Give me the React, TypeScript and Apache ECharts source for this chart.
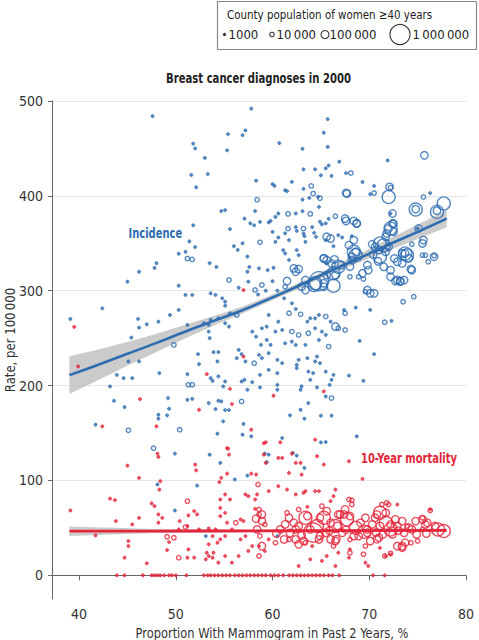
import React, { useEffect, useRef } from "react";
import * as echarts from "echarts";

// population classes for the point codes 1..5
const POP_CLASSES = [1000, 10000, 100000, 300000, 1000000];
const LEGEND_POPS = ["1000", "10\u2009000", "100\u2009000", "1\u2009000\u2009000"];
const X_TICKS = [40, 50, 60, 70, 80];
const Y_TICKS = [0, 100, 200, 300, 400, 500];

// [proportion %, rate, population class code]
const incidence: number[][] = [
  [47.6,484,1],[57.8,492,1],[55.4,465,1],[56.9,464,1],[57.2,469,1],[51.8,455,1],[52.0,450,1],[55.3,448,1],[53.0,440,1],[51.6,422,1],[53.3,423,1],[52.1,409,1],[58.3,416,1],[58.4,396,2],[54.7,384,1],[55.1,385,1],[58.2,384,1],[57.1,376,1],[57.7,371,1],[58.1,369,1],[51.8,369,1],[55.6,365,1],[51.4,352,1],[52.0,346,1],[56.0,347,1],[56.4,343,1],[56.9,350,1],[58.7,351,2],[50.3,339,1],[51.0,341,1],[51.2,334,2],[51.7,333,2],[57.4,336,1],[48.0,329,1],[47.8,324,1],[53.5,329,1],[54.2,325,1],[57.6,325,1],
  [60.7,455.6,1],[63.1,449.6,1],[65.3,466.6,1],[65.7,480.9,1],[65.7,451.6,1],[66.9,436,1],[71.9,437.4,1],[75.7,442.7,3],[67.6,424,1],[68.1,424,2],[63.2,427.9,1],[64.4,428,1],[65.0,421.7,1],[65.5,429,1],[65.8,432,1],[66.1,421,1],[61.3,405.9,1],[62.0,414.7,1],[60.0,412.4,1],[60.2,410.6,1],[61.5,404.9,1],[63.2,407.4,1],[63.8,397.9,1],[64.0,410.5,2],[64.7,399,1],[64.9,397.6,2],[67.6,403,3],[70.5,410.4,1],[70.5,403,2],[70.1,401.7,1],[72.1,409.4,3],[72.0,398.9,4],[72.4,381.4,3],[74.8,386,3],[75.6,398.9,2],[76.3,403,1],[77.0,384.4,3],[77.7,392,4],
  [59.6,372,1],[59.8,373.6,1],[60.6,381.4,1],[61.3,360.5,1],[61.6,381,2],[62.4,381.4,1],[61.6,365.5,2],[62.4,367,1],[62.5,363,1],[63.2,365.5,2],[63.3,357.5,1],[63.4,351.5,1],[63.9,381,2],[64.1,367,1],[64.3,361,1],[64.5,356.8,1],[64.9,372.7,1],[65.1,370,1],[65.5,371,1],[65.8,375.8,1],[66.0,355,3],[66.3,346.9,1],[67.6,373.6,3],[68.4,373.6,3],[68.7,371,3],
  [64.2,402.4,2],[63.1,396,1],[69.3,414.6,1],[63.1,383.8,1],[64.8,388.3,1],[66.5,378.5,2],[72.2,381.3,1],[72.4,370.8,3],[72.0,365.6,3],[72.5,362.1,3],[75.0,365.6,1],
  [58.7,372.6,1],[60.3,377.8,1],[60.6,356.1,1],[63.2,360.3,1],[65.5,353.3,1],[66.8,358.5,1],[67.2,356.1,1],[68.2,357.5,1],[68.4,353.3,3],[67.9,348,3],[68.6,341,3],[70.3,349,3],[70.6,346.3,3],[71.0,342.8,3],[71.7,341,3],[72.0,346.3,3],[71.7,356.8,3],[73.4,339.3,3],[73.7,339.3,3],[74.4,349,2],[75.5,349.8,3],[75.6,353.3,3],[75.8,337.5,2],[76.7,336.8,2],[76.1,330.5,2],
  [60.0,362,1],[60.3,351.5,1],[61.7,353.3,1],[61.1,342.8,1],[61.3,339.3,1],[62.5,342.8,1],[62.7,337.5,1],[61.7,332.3,1],[65.3,334,3],[66.1,328.7,3],[65.6,328.7,1],[68.2,335.8,3],[73.4,328.7,3],[68.6,337.5,4],[73.9,337.5,4],[70.9,331,3],[72.6,334,3],
  [67.7,402.4,3],[72.2,408.7,2],[74.8,385.6,4],[77.0,383.1,4],[75.1,365.6,3],[73.7,339.3,4],[74.1,334.1,3],[74.4,321.8,3],[75.5,337.5,2],[76.7,335.8,3],[72.5,370.8,3],[72.2,365.6,4],[71.8,360.3,3],[71.1,349.8,4],[71.5,348,4],[71.1,335.8,4],[72.9,330.5,3],[72.2,314.7,3],[72.9,311.2,3],[73.2,309.5,3],[68.7,370.8,3],[67.5,376.1,3],[68.4,341,4],[68.2,332.3,3],[69.8,327,3],[69.3,318.3,3],[66.3,318.3,4],[65.3,307.8,3],[64.4,307.8,4],[62.2,323.5,3],[65.6,356.8,3],[65.3,334.1,3],[65.6,332.3,3],[66.4,333,3],[67.1,327,3],[68.0,325.3,3],[69.8,300.7,3],[70.4,338,3],
  [58.6,323.5,1],[59.5,321.7,1],[60.1,324.2,1],[61.5,310.2,3],[61.3,304.2,2],[62.4,320,3],[62.7,322.8,3],[63.4,311.2,3],[63.4,300.7,3],[63.0,304.2,3],[64.3,306,4],[65.3,304.2,3],[66.3,305.3,4],[65.6,316.5,3],[66.5,316.5,3],[66.8,325.2,4],[64.8,310,5],[68.0,314.7,2],[68.9,314.7,2],[69.4,312.3,2],[70.1,297.2,3],[70.5,297.2,3],[69.6,299,2],[69.9,321.7,3],[71.5,325.2,3],[72.2,321.7,3],[72.7,310.2,3],[73.2,310.2,3],[73.6,311.2,3],[74.3,322.8,3],[73.5,288.4,2],[74.6,293.7,2],[67.4,279.7,1],[68.6,282.1,1],[67.5,276.2,2],[70.1,279.7,1],[71.6,266.7,2],[72.3,268.1,1],[70.5,233.1,1],[69.4,205,1],[69.0,247.1,1],[67.9,210.6,1],
  [58.9,306,2],[59.3,300,1],[58.5,296,1],[60.0,310,1],[60.5,300,1],
  [59.6,274.4,1],[60.6,267.4,1],[61.2,292,1],[61.7,276.2,2],[62.0,286.7,1],[62.4,280.7,1],[62.9,275.1,2],[63.6,267.4,1],[63.9,270.9,1],[64.4,270.9,1],[64.8,274.4,1],[65.5,272.7,2],[66.0,267.4,1],[66.5,262.2,3],[66.8,260.4,2],[67.5,258.6,2],
  [58.9,260.4,1],[59.4,262.2,1],[60.3,256.9,1],[61.0,258.6,1],[62.0,256.9,2],[62.7,253.4,2],[63.7,255.1,2],[64.4,260.4,1],[65.1,256.9,1],[65.5,253.4,1],[64.8,248.1,1],
  [59.4,248.1,1],[59.8,242.9,1],[61.3,244.6,1],[62.0,246.4,1],[62.4,242.9,1],[63.4,242.9,1],[65.8,241.1,2],
  [58.6,232.4,1],[58.9,228.9,1],[59.6,234.1,1],[60.5,227.1,1],[61.0,223.6,1],[62.7,227.1,1],[62.5,221.8,1],[63.6,228.9,1],[64.6,230.6,1],[64.9,223.6,1],[64.4,225.4,1],
  [58.7,211.3,1],[59.6,216.6,1],[60.5,213.1,1],[62.5,218.3,1],[63.7,214.8,1],[64.2,213.1,1],[66.3,211.3,1],[66.1,206.1,1],[65.5,214.8,1],
  [58.7,198,1],[60.5,195.6,1],[60.5,200.8,1],[62.9,195.6,1],[63.0,199.1,1],[63.9,206.1,1],[65.5,188.5,1],[66.1,186.8,2],[65.9,200.8,1],[64.6,198,1],
  [63.7,181.5,1],[62.9,174.5,1],[61.8,168.6,1],[63.3,165.1,1],[65.0,168.2,1],[66.1,168.2,1],
  [46.2,320,1],[45.0,309.5,1],[50.3,305.3,1],[51.0,295.5,1],[51.7,295.5,1],[53.6,297.2,1],[54.1,295.5,1],[54.8,292,1],[55.1,288.4,1],[55.1,284.2,1],[55.5,311.2,2],[56.5,303.2,1],[57.4,320,1],[57.5,309.5,1],[58.2,300.7,2],[42.4,281.4,1],[39.1,270.2,1],
  [45.4,250.6,1],[46.1,270.2,1],[46.2,261.1,1],[47.0,264.6,1],[48.2,267.4,1],[49.4,274.4,1],[50.3,279.7,1],[51.2,263.9,1],[52.9,265.7,1],[53.4,263.9,1],[53.6,269.2,1],[54.4,270.9,1],[55.1,265.7,1],[55.5,262.2,1],[55.6,276.2,1],[56.3,274.4,2],[53.4,256.9,1],[53.5,249.9,1],[49.8,242.9,2],[52.3,233.1,1],[53.9,235.2,1],[54.4,235.2,1],[54.3,225.4,1],[52.4,222.5,1],[56.5,237.6,1],[56.8,233.1,1],[56.3,228.9,1],[57.2,225.4,1],[58.1,223.6,2],[57.9,256.9,1],[58.3,251.6,1],[58.8,242.9,1],[45.1,225.4,1],[46.2,225.4,1],[43.9,211.3,1],[44.6,207.8,1],[45.5,207.8,1],[43.2,199.1,1],[48.3,213.1,1],[51.2,212,1],[53.6,207.8,1],[53.8,205,1],[54.4,209.6,1],[55.1,204.3,1],[54.9,199.1,1],[51.3,200.8,2],[51.7,200.8,2],[56.8,204.3,1],[57.1,206.1,1],[57.9,203.6,1],[57.4,195.6,1],
  [43.6,184,1],[44.7,177.3,1],[49.2,186.8,1],[49.3,175.6,1],[51.2,185,1],[51.7,186,1],[53.4,181.5,1],[54.4,184,1],[54.7,183.3,1],[54.1,175.2,1],[56.8,183.3,2],[55.5,174.2,1],[55.1,174.2,1],
  [48.2,169.3,1],[48.2,165.1,1],[49.1,168.6,1],[41.7,158.8,1],[45.1,152.8,2],[50.4,153.5,2],[54.9,162.3,1],[57.0,159.5,1],
  [68.7,146.5,1],[65.0,140,1],[47.7,134,2],[54.3,149.3,1],[56.9,148.2,1],[57.8,146.5,1],[49.9,128.3,1],[53.5,127.2,1],[54.6,118.5,1],[56.1,101,1],[57.4,105.1,1],[52.2,94.6,1],[48.1,95.7,1],[49.9,68.3,1],[53.1,41.3,1],
  [61.0,144.7,1],[59.2,128.3,1],[59.6,127.2,1],[59.4,119.2,1],[62.1,129,1],[62.5,126.2,1],[63.3,113.2,1],[65.5,140.5,1],[60.5,41.3,1],
];

const mortality: number[][] = [
  [39.5,261.8,1],[39.9,220.1,1],[57.0,300.7,1],[57.0,230.6,1],[53.2,212,1],[55.6,196.6,1],[46.3,185.7,1],[52.4,174.5,1],[55.8,180.5,1],[48.0,157,1],[42.4,157,1],[57.8,153.5,1],[60.1,189.3,1],[65.3,193.8,1],[64.4,143,1],[60.8,140.2,1],[59.3,140.2,1],[55.3,134,1],
  [48.1,128.3,1],[48.2,124.8,1],[45.0,115.6,1],[46.2,102.7,1],[48.4,99.2,1],[48.3,90.4,1],[52.0,116.7,1],[52.1,110.7,1],[55.4,133.5,1],[55.5,127.2,1],[54.5,98.1,1],[54.7,102.7,1],[55.3,107.2,1],[57.8,107.2,1],[58.3,106.2,1],[59.1,139.2,1],[59.1,127.2,1],[59.3,118.5,1],
  [43.2,80.9,1],[43.7,79.2,1],[39.1,68.3,1],[43.8,57.1,1],[41.7,42,1],[45.5,53.6,1],[46.2,60.6,1],[45.1,36.1,1],[45.1,30.8,1],[44.7,18.6,1],[47.0,12.6,1],
  [47.5,75.7,1],[47.8,72.9,1],[48.2,64.1,1],[48.6,60.6,1],[48.2,55.4,1],
  [51.2,78.1,2],[50.4,57.1,1],[51.3,63.1,1],[51.9,67.6,1],[52.2,64.1,1],[50.3,48.3,1],[51.2,51.9,1],[51.0,50.8,2],
  [49.1,40.6,2],[49.8,39.6,2],[49.3,35,1],[49.1,26.6,1],
  [50.3,18.6,2],[51.2,18.6,1],[51.9,18.6,1],[51.3,27.3,1],
  [52.4,48.3,1],[53.4,49.4,1],[54.1,48.3,1],[54.6,62.4,1],[55.1,65.9,1],[55.3,55.4,1],[56.2,55.4,2],[56.7,58.9,1],[57.0,57.1,1],[53.8,41.3,1],[54.3,34.3,1],[54.6,37.8,1],[55.1,41.3,1],[53.4,32.6,1],[53.2,23.8,1],[53.4,20.3,1],[53.9,23.8,1],
  [54.6,79.9,1],[55.1,85.2,1],[55.6,79.9,1],[54.6,71.1,1],[57.2,85.2,1],[57.5,83.4,1],[58.2,79.9,1],[58.4,85.2,1],[58.2,70.1,1],[58.6,64.1,2],[58.3,59.6,3],[58.9,57.1,3],[58.5,95.7,2],
  [55.8,48.3,1],[56.7,37.8,1],[57.2,41.3,1],[57.9,30.8,1],[57.5,25.6,1],[58.6,20.3,2],[58.9,30.8,3],[56.5,20.3,1],[55.8,13.3,1],[55.1,20.3,1],[54.4,13.3,1],[53.8,18.6,1],[53.1,16.8,1],
  [60.6,123.7,1],[61.0,123.7,1],[62.0,128.3,1],[62.4,118.5,1],[62.9,118.5,1],[64.6,125.5,1],[65.3,116.7,1],[67.9,120.2,1],[61.7,107.9,1],[63.0,106.2,1],[69.3,101.6,1],
  [59.6,88.7,1],[60.6,93.9,1],[61.5,90.4,1],[62.4,85.2,1],[63.2,86.9,1],[63.4,88.7,1],[64.4,88.7,1],[64.8,88.7,1],[66.5,90.4,1],[66.3,83.4,1],[66.0,78.1,1],[67.9,79.9,2],[68.2,79.2,2],[71.8,76.4,2],[72.9,74.6,1],[76.3,68.3,2],
  [62.7,9.8,1],[63.9,16.8,1],[65.1,15.1,1],[66.5,9.8,1],[67.9,18.6,1],[69.6,13.3,1],[69.9,9.8,1],[71.6,20.3,2],[72.2,23.1,2],
  [58.6,69.4,2],[58.9,64.1,3],[59.2,53.6,2],[58.4,48.3,3],[58.7,41.3,2],[59.6,37.8,1],[58.6,30.8,1],[59.2,25.6,1],[60.3,34.3,2],[60.8,48.3,3],[61.3,53.6,3],[61.7,60.6,3],[62.4,48.3,3],[61.7,37.8,2],[62.7,32.6,3],[63.4,60.6,4],[63.9,48.3,3],[64.6,51.9,4],[65.3,60.6,4],[65.5,44.8,3],[66.0,37.8,3],[66.3,30.8,2],[66.5,51.9,4],[67.4,64.1,3],[67.7,58.9,4],[68.6,50.1,4],[68.9,41.3,3],[68.0,37.8,2],[67.2,44.8,3],[69.8,48.3,3],[70.3,53.6,3],[70.6,60.6,3],[71.1,65.9,4],[71.7,55.4,4],[72.2,48.3,4],[72.7,58.9,3],[72.9,51.9,3],[73.6,44.8,3],[73.9,51.9,2],[74.4,48.3,3],[74.9,43.1,3],[75.5,48.3,2],[73.4,30.8,3],[72.0,74.6,2],[71.3,74.6,2],[75.8,53.6,3],[76.8,51.9,3],[77.7,46.6,4],[72.2,22.1,1],[71.7,20.3,1],
  [61.5,65.9,2],[62.7,69.4,2],[63.6,72.2,1],[65.1,72.9,2],[65.6,67.6,3],[66.8,64.1,3],[67.5,69.4,3],[68.2,74.6,2],[69.6,60.6,3],[62.4,37.8,3],[63.4,34.3,2],[64.1,30.8,1],[64.8,37.8,3],[66.5,36.1,3],[66.8,23.8,1],[65.6,20.3,1],[68.0,27.3,1],[69.4,22.1,2],[70.1,36.1,3],[71.0,39.6,3],[72.9,30.8,3],[72.4,43.1,3],[74.1,50.1,3],[74.8,57.1,3],[75.5,58.9,3],[77.1,48.3,4],[64.2,45,5],[69.5,46,4],
  [63.6,62.4,3],[64.9,60.6,3],[67.0,64.1,3],[68.0,62.4,3],[70.8,64.1,3],[71.7,65.9,3],[73.4,57.1,3],[75.5,60.6,2],[76.3,69.4,1],[62.2,55.4,3],[62.7,51.9,3],[66.0,55.4,3],[66.7,52,3],[69.1,55.4,3],[71.1,52,3],[72.2,53.6,3],[76.0,55.4,3],[73.7,34.3,3],[73.4,29.1,3],[74.3,34.3,2],[75.0,36.1,2],[61.2,37.8,3],[63.2,36.1,3],[64.9,41.3,3],[66.6,38,3],[68.4,41.3,3],[69.8,44.8,3],[70.8,38,3],[68.0,23.8,2],[69.6,30.8,2],[71.1,29,1],[60.4,44,3],[61.8,44.5,3],[63.0,42,3],[65.9,47,3],[67.6,48,3],[70.7,45,3],[71.4,43,3],[73.0,47,3],[75.9,44,3],
  [43.9,0,1],[44.7,0,1],[46.6,0,1],[47.5,0,1],[47.8,0,1],[48.1,0,1],[48.4,0,1],[48.8,0,1],[49.3,0,1],[49.6,0,1],[50.0,0,1],[51.1,0,1],[52.9,0,1],[53.3,0,1],[53.6,0,1],[54.0,0,1],[54.4,0,1],[54.8,0,1],[55.2,0,1],[55.6,0,1],[56.1,0,1],[56.5,0,1],[56.9,0,1],[57.3,0,1],[57.7,0,1],[58.1,0,1],[58.5,0,1],[58.9,0,1],[59.3,0,1],[59.8,0,1],[60.2,0,1],[60.6,0,1],[61.1,0,1],[61.7,0,1],[62.1,0,1],[62.5,0,1],[62.9,0,1],[63.3,0,1],[63.7,0,1],[64.1,0,1],[64.5,0,1],[64.9,0,1],[65.3,0,1],[65.8,0,1],[66.2,0,1],[66.9,0,1],[70.4,0,1],[71.6,0,1],
];

// fitted incidence curve with confidence band
const incFitX = [39, 42, 45, 48, 51, 54, 57, 60, 63, 66, 69, 72, 75, 78];
const incFitY = [211, 222, 233.5, 245, 257, 268.5, 280, 293, 306.5, 321, 334.5, 348.5, 362, 376];
const incFitLow = [191, 206, 221, 235.5, 250, 263.5, 276.5, 290, 303.5, 317.5, 330, 342.5, 354.5, 367];
const incFitHigh = [231, 238, 246, 254.5, 264, 273.5, 283.5, 296, 309.5, 324.5, 339, 354.5, 369.5, 385];

// fitted mortality line with confidence band
const morFitX = [39, 48, 58, 68, 78];
const morFitY = [46.5, 46.6, 46.8, 47.1, 47.4];
const morFitLow = [41.5, 44.5, 45.5, 45.8, 45.6];
const morFitHigh = [51.5, 48.7, 48.1, 48.4, 49.2];

const BLUE = "#2c6cb0";
const RED = "#e3263b";
const FONT = "'DejaVu Sans Condensed', 'DejaVu Sans', sans-serif";

// diameter (px) per population class
function sizeFor(code: number): number {
  const pop = POP_CLASSES[code - 1];
  const l = Math.log10(pop);
  const stops = [[3, 3.2], [4, 4.4], [5, 7.5], [6, 19]];
  for (let i = 0; i < stops.length - 1; i++) {
    if (l <= stops[i + 1][0]) {
      const t = (l - stops[i][0]) / (stops[i + 1][0] - stops[i][0]);
      return stops[i][1] + t * (stops[i + 1][1] - stops[i][1]);
    }
  }
  return 19;
}

function pointData(pts: number[][], color: string) {
  return pts.map(([x, y, c]) => ({
    value: [x, y],
    symbolSize: sizeFor(c),
    itemStyle:
      c === 1
        ? { color, borderColor: color, borderWidth: 0.7 }
        : { color: "rgba(255,255,255,0)", borderColor: color, borderWidth: 1.4 },
  }));
}

function bandSeries(xs: number[], lo: number[], hi: number[], fill: string, opacity: number) {
  return {
    type: "custom",
    z: 1,
    silent: true,
    data: xs.map((x, i) => [x, lo[i], hi[i]]),
    renderItem: (params: any, api: any) => {
      if (params.dataIndex !== 0) return null;
      const top = xs.map((x, i) => api.coord([x, hi[i]]));
      const bot = xs.map((x, i) => api.coord([x, lo[i]])).reverse();
      return {
        type: "polygon",
        shape: { points: top.concat(bot) },
        style: { fill, opacity },
      };
    },
  };
}

function label(text: string, x: number, y: number, opts: any) {
  return {
    type: "text",
    x,
    y,
    scaleX: opts.scaleX ?? 1,
    rotation: opts.rotation ?? 0,
    style: {
      text,
      fontFamily: FONT,
      fontSize: opts.fontSize ?? 14,
      fontWeight: opts.fontWeight ?? "normal",
      fill: opts.fill ?? "#333",
      textAlign: opts.align ?? "left",
      textVerticalAlign: "middle",
    },
  };
}

export default function App() {
  const ref = useRef<HTMLDivElement>(null);
  useEffect(() => {
    if (!ref.current) return;
    const chart = echarts.init(ref.current, null, { renderer: "svg" });
    const legendItems = [
      { cx: 224.5, r: 1.4, fill: true, tx: 228.5 },
      { cx: 272, r: 2.2, fill: false, tx: 276.5 },
      { cx: 325, r: 4, fill: false, tx: 329.5 },
      { cx: 400, r: 10, fill: false, tx: 412.5 },
    ];
    chart.setOption({
      animation: false,
      backgroundColor: "#ffffff",
      textStyle: { fontFamily: FONT },
      grid: { left: 52, right: 13, top: 101, bottom: 41 },
      xAxis: {
        type: "value",
        min: 37.2,
        max: 80,
        axisLine: { show: true, lineStyle: { color: "#666", width: 1 } },
        axisTick: { show: true, length: 5, lineStyle: { color: "#666" }, customValues: X_TICKS },
        axisLabel: { customValues: X_TICKS, fontSize: 14, color: "#333", margin: 8, fontFamily: FONT },
        splitLine: { show: false },
      },
      yAxis: {
        type: "value",
        min: -25,
        max: 500,
        axisLine: { show: true, lineStyle: { color: "#666", width: 1 } },
        axisTick: { show: true, length: 4, lineStyle: { color: "#666" }, customValues: Y_TICKS },
        axisLabel: { customValues: Y_TICKS, fontSize: 14, color: "#333", margin: 9, fontFamily: FONT },
        splitLine: { show: true, lineStyle: { color: "#e6e6e6", width: 1.2 } },
      },
      graphic: [
        {
          type: "group",
          children: [
            {
              type: "rect",
              shape: { x: 217.5, y: 1.5, width: 259, height: 48 },
              style: { fill: "#fff", stroke: "#8a8a8a", lineWidth: 1.2 },
            },
            label("County population of women \u226540 years", 227, 15, { fontSize: 13, scaleX: 0.88, fill: "#222" }),
            ...legendItems.map((it) => ({
              type: "circle",
              shape: { cx: it.cx, cy: 34.5, r: it.r },
              style: it.fill
                ? { fill: "#333", stroke: "#333", lineWidth: 0.5 }
                : { fill: "none", stroke: "#333", lineWidth: 1.1 },
            })),
            ...legendItems.map((it, i) => label(LEGEND_POPS[i], it.tx, 34.5, { fontSize: 13, fill: "#222" })),
          ],
        },
        label("Breast cancer diagnoses in 2000", 258.5, 78.5, {
          fontSize: 14, scaleX: 0.8, fontWeight: "bold", fill: "#222", align: "center",
        }),
        label("Incidence", 128.5, 233, { fontSize: 14, scaleX: 0.79, fontWeight: "bold", fill: BLUE }),
        label("10-Year mortality", 361, 458, { fontSize: 14, scaleX: 0.79, fontWeight: "bold", fill: RED }),
        label("Rate, per 100\u2009000", 10, 340, { fontSize: 14, scaleX: 0.93, rotation: Math.PI / 2, align: "center" }),
        label("Proportion With Mammogram in Past 2 Years, %", 272, 633, { fontSize: 14, scaleX: 0.91, align: "center" }),
      ],
      series: [
        bandSeries(incFitX, incFitLow, incFitHigh, "#b9b9b9", 0.75),
        bandSeries(morFitX, morFitLow, morFitHigh, "#b9b9b9", 0.75),
        {
          type: "scatter",
          name: "Incidence",
          z: 2,
          data: pointData(incidence, BLUE),
        },
        {
          type: "scatter",
          name: "10-Year mortality",
          z: 3,
          data: pointData(mortality, RED),
        },
        {
          type: "line",
          z: 4,
          smooth: true,
          symbol: "none",
          data: incFitX.map((x, i) => [x, incFitY[i]]),
          lineStyle: { color: BLUE, width: 2.6 },
        },
        {
          type: "line",
          z: 4,
          smooth: true,
          symbol: "none",
          data: morFitX.map((x, i) => [x, morFitY[i]]),
          lineStyle: { color: RED, width: 2.8 },
        },
      ],
    });
    return () => chart.dispose();
  }, []);
  return (
    <div
      ref={ref}
      style={{ position: "fixed", left: 0, top: 0, width: 479, height: 640, background: "#fff" }}
    />
  );
}
